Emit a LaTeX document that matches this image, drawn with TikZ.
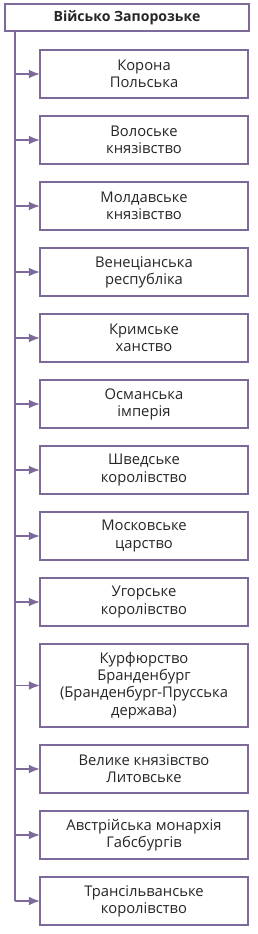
\documentclass[tikz,border=0pt]{standalone}
\usepackage{fontspec}
\setmainfont{Open Sans}
\usepackage{xcolor}
\definecolor{lilac}{HTML}{7E6A9A}
\definecolor{ink}{HTML}{262626}
\usepackage{tikz}
\usetikzlibrary{arrows.meta,positioning,calc}

\begin{document}
\begin{tikzpicture}[
  node distance=0.45cm,
  head/.style={draw=lilac, line width=1.2pt, fill=white, text=ink, align=center,
               font=\bfseries\fontsize{10}{12}\selectfont, outer sep=0pt,
               minimum width=6.1cm, minimum height=0.675cm, inner sep=2pt},
  box/.style={draw=lilac, line width=1.2pt, fill=white, text=ink, align=center,
              font=\fontsize{10.5}{12.2}\selectfont, outer sep=0pt,
              minimum width=5.2cm, minimum height=1.2cm, inner sep=3pt},
  arr/.style={-{Latex[length=2.8mm,width=2.2mm]}, line width=1.2pt, color=lilac}
]
\useasboundingbox (0,0) rectangle (6.425,-23.35);
\node[head] (vijsko) at (3.175,-0.4375) {Військо Запорозьке};
\node[box] (korona) at (3.6,-1.85) {Корона\\Польська};
\node[box, below=of korona] (volosk) {Волоське\\князівство};
\node[box, below=of volosk] (moldav) {Молдавське\\князівство};
\node[box, below=of moldav] (venec) {Венеціанська\\республіка};
\node[box, below=of venec] (krym) {Кримське\\ханство};
\node[box, below=of krym] (osman) {Османська\\імперія};
\node[box, below=of osman] (shved) {Шведське\\королівство};
\node[box, below=of shved] (moskov) {Московське\\царство};
\node[box, below=of moskov] (ugor) {Угорське\\королівство};
\node[box, below=of ugor, minimum height=2.075cm] (brand) {Курфюрство\\Бранденбург\\(Бранденбург-Прусська\\держава)};
\node[box, below=of brand] (lytva) {Велике князівство\\Литовське};
\node[box, below=of lytva] (avstr) {Австрійська монархія\\Габсбургів};
\node[box, below=of avstr] (transil) {Трансільванське\\королівство};
% trunk from the top box
\coordinate (trunk) at ($(vijsko.south west)+(0.25,0)$);
\draw[lilac, line width=1.2pt] (trunk) -- (trunk |- transil.west);
\foreach \s in {korona,volosk,moldav,venec,krym,osman,shved,moskov,ugor,brand,lytva,avstr,transil}
  \draw[arr] (trunk |- \s.west) -- (\s.west);
\end{tikzpicture}
\end{document}
